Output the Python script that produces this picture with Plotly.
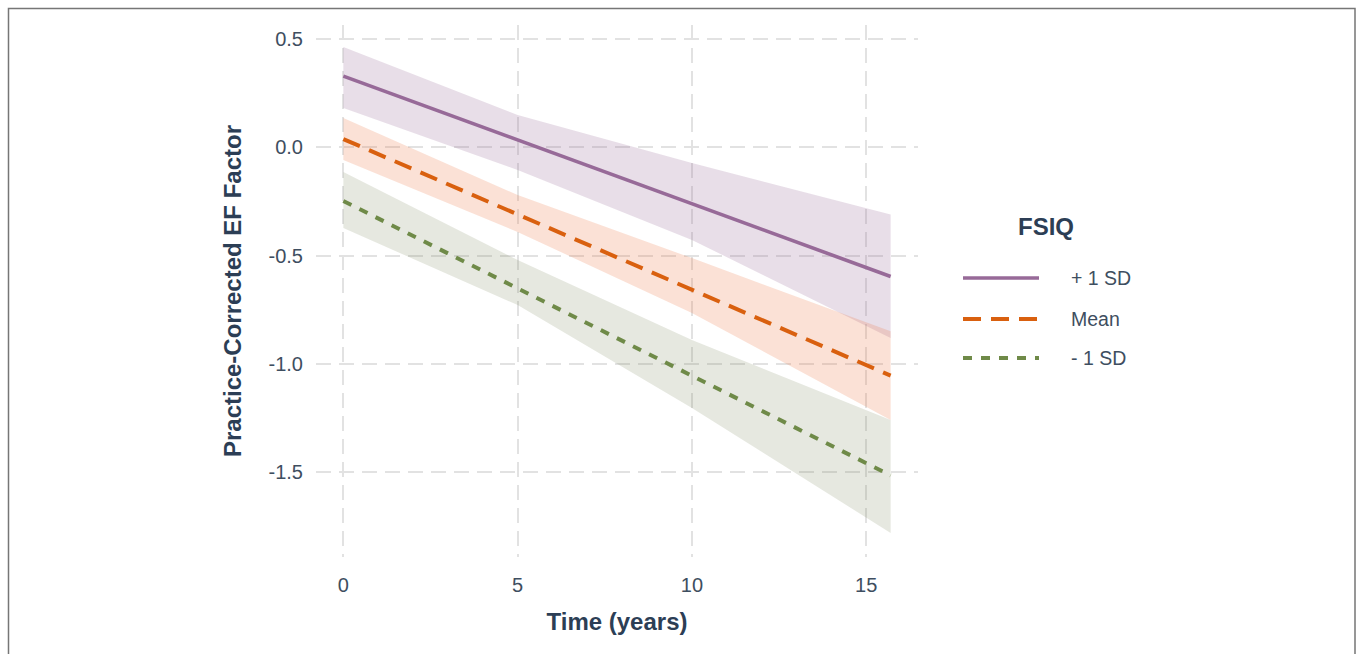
import plotly.graph_objects as go

# Model-implied trajectories of the EF factor by FSIQ level
time_pts = [0, 5, 10, 15.7]

series_names = ["+ 1 SD", "Mean", "- 1 SD"]

fit_plus = [0.329, 0.035, -0.260, -0.597]
low_plus = [0.181, -0.105, -0.428, -0.881]
up_plus = [0.463, 0.149, -0.073, -0.310]

fit_mean = [0.038, -0.309, -0.656, -1.055]
low_mean = [-0.059, -0.391, -0.766, -1.260]
up_mean = [0.135, -0.221, -0.512, -0.850]

fit_minus = [-0.248, -0.652, -1.057, -1.516]
low_minus = [-0.373, -0.729, -1.204, -1.782]
up_minus = [-0.114, -0.521, -0.890, -1.260]

x_ticks = [0, 5, 10, 15]
y_ticks = [0.5, 0.0, -0.5, -1.0, -1.5]
y_tick_text = ["0.5", "0.0", "-0.5", "-1.0", "-1.5"]

colors = ["#976a98", "#d9600f", "#6f8a48"]
fills = ["rgba(151,106,152,0.22)", "rgba(238,120,70,0.22)", "rgba(130,140,100,0.2)"]
dashes = ["solid", "18px,10px", "9px,9px"]
widths = [3.6, 4, 4]

fits = [fit_plus, fit_mean, fit_minus]
lows = [low_plus, low_mean, low_minus]
ups = [up_plus, up_mean, up_minus]

FONT = "Liberation Sans, Arial, sans-serif"
TICK_COL = "#3e4e60"
TITLE_COL = "#2c3e55"
GRID = dict(showgrid=True, gridcolor="#e2e2e2", gridwidth=2, griddash="15px,8px")

fig = go.Figure()

for i in range(3):
    fig.add_trace(go.Scatter(
        x=time_pts + time_pts[::-1],
        y=ups[i] + lows[i][::-1],
        fill="toself", fillcolor=fills[i], line=dict(width=0),
        mode="lines", hoverinfo="skip", showlegend=False,
    ))

for i in range(3):
    fig.add_trace(go.Scatter(
        x=time_pts, y=fits[i], mode="lines", name=series_names[i],
        line=dict(color=colors[i], width=widths[i], dash=dashes[i]),
        showlegend=False,
    ))

# plot-area geometry in pixels (used to place the legend and frame)
L, R, T, B = 316, 918, 25, 557
W, H = R - L, B - T


def px(xp):
    return (xp - L) / W


def py(yp):
    return (B - yp) / H


shapes = [
    dict(type="rect", xref="paper", yref="paper",
         x0=px(8.5), x1=px(1355), y0=py(8.5), y1=py(700),
         line=dict(color="#767676", width=1.5), fillcolor="rgba(0,0,0,0)"),
]
annotations = [
    dict(text="<b>FSIQ</b>", xref="paper", yref="paper", x=px(1046), y=py(226),
         showarrow=False, font=dict(family=FONT, size=24, color=TITLE_COL),
         xanchor="center", yanchor="middle"),
]
legend_y = [278, 319, 358]
for i in range(3):
    shapes.append(dict(type="line", xref="paper", yref="paper",
                       x0=px(963), x1=px(1039), y0=py(legend_y[i]), y1=py(legend_y[i]),
                       line=dict(color=colors[i], width=widths[i], dash=dashes[i])))
    annotations.append(dict(text=series_names[i], xref="paper", yref="paper",
                            x=px(1069), y=py(legend_y[i]), showarrow=False,
                            xanchor="left", yanchor="middle",
                            font=dict(family=FONT, size=19.5, color=TICK_COL)))

fig.update_layout(
    width=1357, height=654,
    margin=dict(l=L, r=1357 - R, t=T, b=654 - B),
    paper_bgcolor="white", plot_bgcolor="white",
    font=dict(family=FONT, color=TICK_COL),
    shapes=shapes, annotations=annotations,
    showlegend=False,
)

fig.update_xaxes(
    range=[-0.785, 16.485], tickvals=x_ticks, **GRID,
    zeroline=False, showline=False, ticks="",
    tickfont=dict(family=FONT, size=20, color=TICK_COL),
    ticklabelstandoff=14,
    title=dict(text="<b>Time (years)</b>", font=dict(family=FONT, size=24, color=TITLE_COL), standoff=18),
)
fig.update_yaxes(
    range=[-1.893, 0.565], tickvals=y_ticks, ticktext=y_tick_text, **GRID,
    zeroline=False, showline=False, ticks="",
    tickfont=dict(family=FONT, size=20, color=TICK_COL),
    ticklabelstandoff=12,
    title=dict(text="<b>Practice-Corrected EF Factor</b>", font=dict(family=FONT, size=24, color=TITLE_COL), standoff=20),
)

fig.write_html("out.html")
